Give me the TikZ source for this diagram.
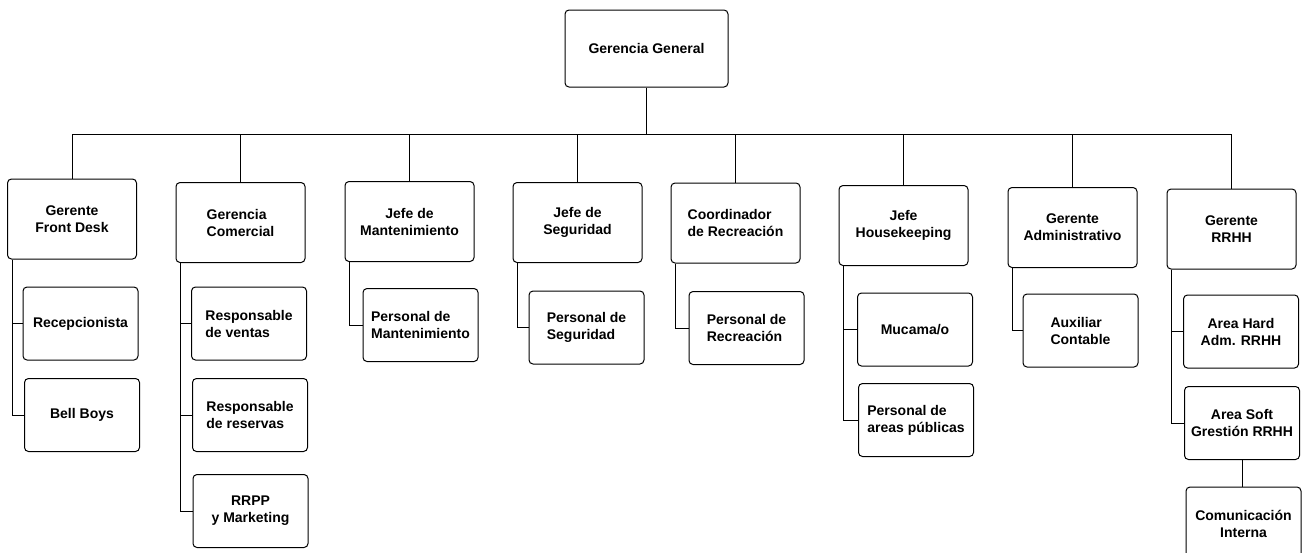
\documentclass[tikz,border=0pt]{standalone}
\usepackage{fontspec}
\setmainfont{Liberation Sans}
\begin{document}
\begin{tikzpicture}[x=1pt,y=-1pt,
  caja/.style={draw, rounded corners=4pt, line width=1pt, inner sep=2pt,
    font=\bfseries\fontsize{14}{17}\selectfont, align=center},
  jefe/.style={caja, minimum width=129pt, minimum height=80pt},
  puesto/.style={caja, minimum width=115pt, minimum height=73pt},
  linea/.style={line width=1pt}]
\clip (0,0) rectangle (1303,552);
\fill[white] (0,0) rectangle (1303,552);

% direccion
\node[caja, minimum width=163pt, minimum height=77pt] (gg) at (646.5,48.5) {Gerencia General};

% jefaturas
\node[jefe] (fd) at (72,219) {Gerente\\Front Desk};
\node[jefe, align=left] (gc) at (240.5,222.5) {Gerencia\\Comercial};
\node[jefe] (jm) at (409.5,221.5) {Jefe de\\Mantenimiento};
\node[jefe] (js) at (577.5,222.5) {Jefe de\\Seguridad};
\node[jefe, align=left] (cr) at (735.5,223) {Coordinador\\de Recreación};
\node[jefe] (jh) at (903.5,225.5) {Jefe\\Housekeeping};
\node[jefe] (ga) at (1072.5,227.5) {Gerente\\Administrativo};
\node[jefe] (gr) at (1231.5,229) {Gerente\\RRHH};

% puestos
\node[puesto] (rec) at (80.5,323.5) {Recepcionista};
\node[puesto] (bb) at (82,415) {Bell Boys};
\node[puesto, align=left] (rv) at (249,323.5) {Responsable\\de ventas};
\node[puesto, align=left] (rr) at (250,415) {Responsable\\de reservas};
\node[puesto] (rm) at (250.5,511) {RRPP\\y Marketing};
\node[puesto, align=left] (pm) at (420.5,325) {Personal de\\Mantenimiento};
\node[puesto, align=left] (ps) at (586.5,327.5) {Personal de\\Seguridad};
\node[puesto, align=left] (pr) at (746.5,328) {Personal de\\Recreación};
\node[puesto] (mu) at (915,329.5) {Mucama/o};
\node[puesto, align=left] (pa) at (916,420) {Personal de\\areas públicas};
\node[puesto, align=left] (ac) at (1080.5,330.5) {Auxiliar\\Contable};
\node[puesto] (ah) at (1241,331.5) {Area Hard\\Adm. RRHH};
\node[puesto] (as) at (1242,423) {Area Soft\\Grestión RRHH};
\node[puesto] (ci) at (1243.5,523.5) {Comunicación\\Interna};

% lineas
\coordinate (bus) at (0,134);
\draw[linea] (gg.south) -- (gg.south |- bus);
\draw[linea] (fd.north |- bus) -- (gr.north |- bus);
\foreach \j in {fd,gc,jm,js,cr,jh,ga,gr}
  \draw[linea] (\j.north) -- (\j.north |- bus);
\foreach \j/\p in {fd/rec,fd/bb,gc/rv,gc/rr,gc/rm,jm/pm,js/ps,cr/pr,jh/mu,jh/pa,ga/ac,gr/ah,gr/as}
  \draw[linea] ([xshift=5pt]\j.south west) |- (\p.west);
\draw[linea] (as.south) -- (as.south |- ci.north);
\end{tikzpicture}
\end{document}
